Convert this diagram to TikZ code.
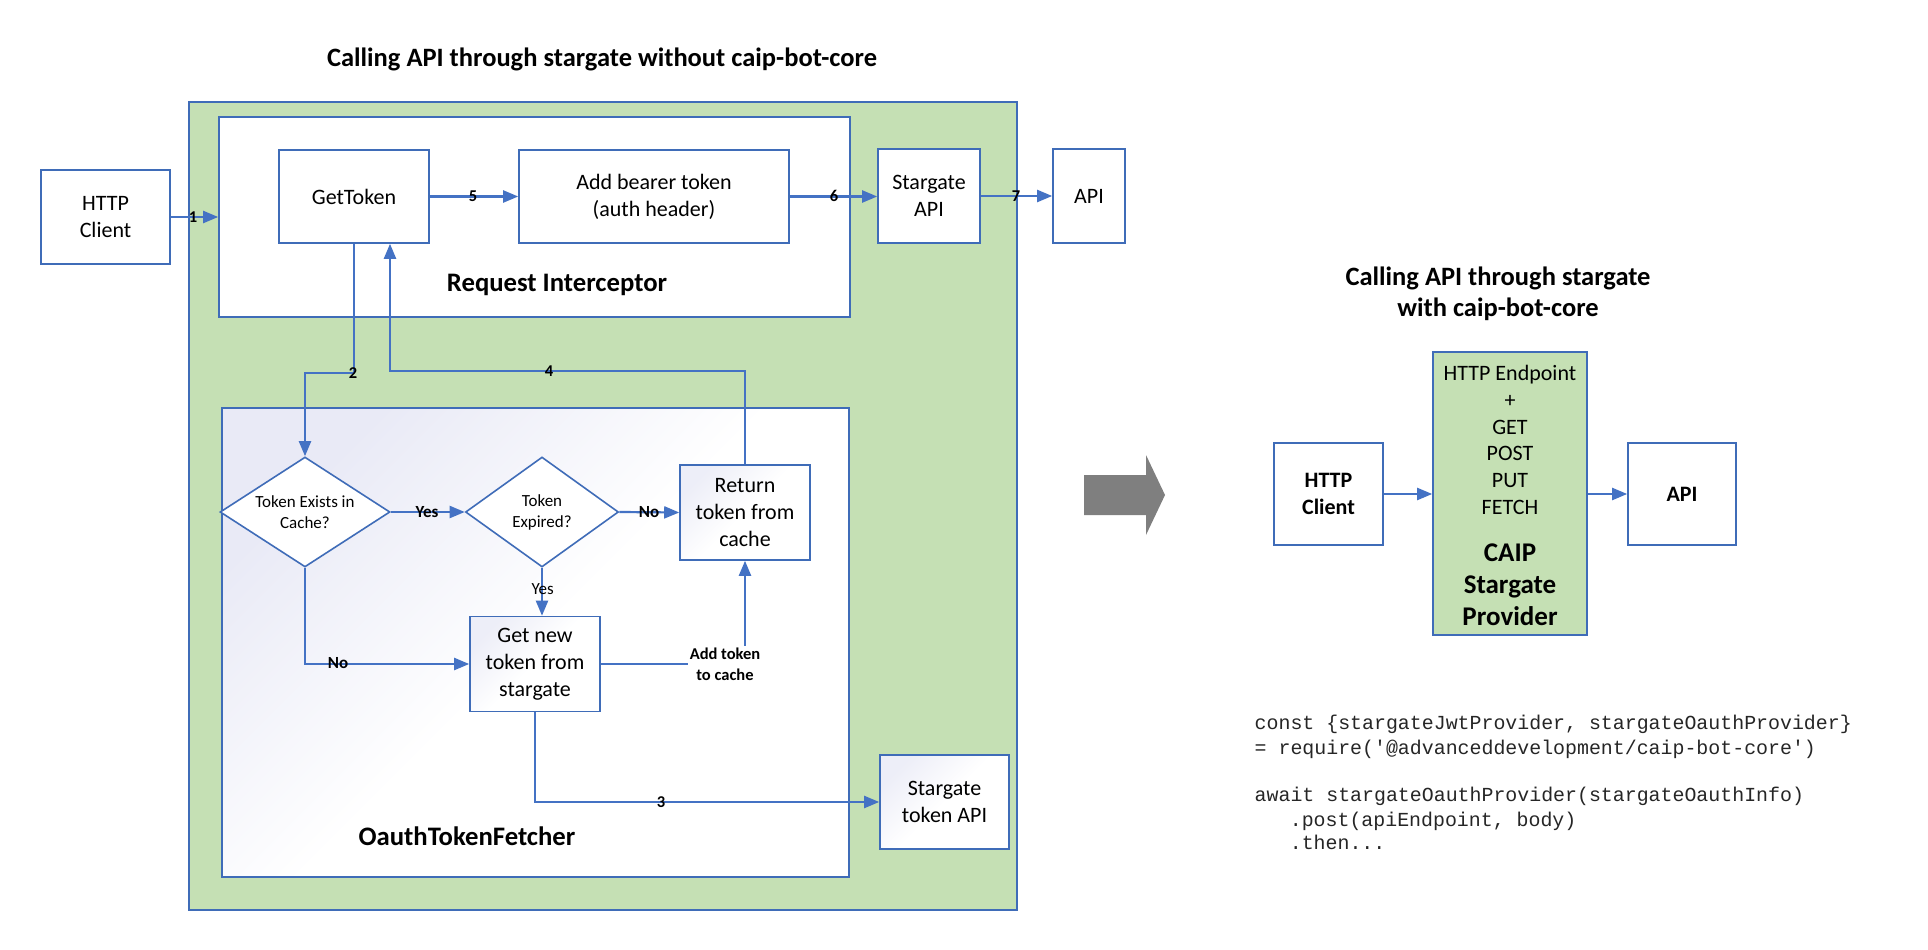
\documentclass[tikz,border=0pt]{standalone}
\usepackage{fontspec}
\setmainfont{Carlito}
\setmonofont{Liberation Mono}
\usetikzlibrary{arrows.meta,shapes.geometric}
\definecolor{lineblue}{HTML}{4472C4}
\definecolor{boxblue}{HTML}{3F6CB8}
\definecolor{bggreen}{HTML}{C5E0B4}
\definecolor{lav}{HTML}{E9EAF6}
\definecolor{arrowgray}{HTML}{7F7F7F}
\newcommand\fsz[2]{\fontsize{#1}{#2}\selectfont}
\begin{document}
\begin{tikzpicture}[x=1pt,y=-1pt,
  box/.style={draw=boxblue, line width=1.6pt, fill=white, align=center, inner sep=0pt, font=\fsz{22}{27}},
  gbox/.style={box, top color=lav!80, bottom color=white, middle color=white, shading angle=45},
  dia/.style={diamond, draw=boxblue, line width=1.6pt, fill=white, inner sep=0pt, align=center, font=\fsz{17}{21}},
  conn/.style={draw=lineblue, line width=2.2pt},
  arr/.style={conn, -{Triangle[length=15pt,width=12pt]}},
  num/.style={font=\bfseries\fsz{16.5}{18}, inner sep=0pt},
  yn/.style={font=\bfseries\fsz{17}{21}, inner sep=0pt},
  title/.style={font=\bfseries\fsz{26.5}{31}, align=center},
  code/.style={font=\ttfamily\fsz{19.9}{24}, text=black!85, anchor=base west, inner sep=0pt}
]
\useasboundingbox (0,0) rectangle (1928,950);

% ---------- left diagram ----------
\node[title] (t1) at (602,59) {Calling API through stargate without caip-bot-core};
\node[draw=boxblue, line width=1.6pt, fill=bggreen, minimum width=828pt, minimum height=808pt, inner sep=0pt] (green) at (603,506) {};
\node[box, minimum width=631pt, minimum height=200pt] (ri) at (534.5,217) {};
\node[box, top color=lav, bottom color=white, middle color=white, shading angle=45,
      minimum width=627pt, minimum height=469pt] (otf) at (535.3,642.2) {};

\node[box, minimum width=129pt, minimum height=94pt] (hc) at (105.5,217) {HTTP\\Client};
\node[box, minimum width=150pt, minimum height=93pt] (gt) at (354,196.5) {GetToken};
\node[box, minimum width=270pt, minimum height=93pt] (ab) at (654,196.5) {Add bearer token\\(auth header)};
\node[box, minimum width=102pt, minimum height=94pt] (sa) at (929,196) {Stargate\\API};
\node[box, minimum width=72pt, minimum height=94pt] (api) at (1089,196) {API};
\node[font=\bfseries\fsz{26.7}{30}] (ril) at (557,285) {Request Interceptor};

\node[dia, shape aspect=1.55, minimum width=170pt, minimum height=110pt] (d1) at (305,512) {Token Exists in\\Cache?};
\node[dia, shape aspect=1.4, minimum width=153pt, minimum height=110pt] (d2) at (542,512) {Token\\Expired?};
\node[gbox, minimum width=130pt, minimum height=95pt] (rt) at (745,512.5) {Return\\token from\\cache};
\node[gbox, minimum width=130pt, minimum height=95pt] (gn) at (535,664) {Get new\\token from\\stargate};
\node[gbox, minimum width=129pt, minimum height=94pt] (tapi) at (944.5,802) {Stargate\\token API};
\node[font=\bfseries\fsz{26.7}{30}] (otfl) at (467,836) {OauthTokenFetcher};

% connectors
\draw[arr] (hc.east) -- (ri.west |- hc.east);
\draw[arr] (gt.east) -- (ab.west);
\draw[arr] (ab.east) -- (sa.west |- ab.east);
\draw[arr] (sa.east) -- (api.west);
\coordinate (c2) at (305,373);
\draw[arr] (gt.south) |- (c2) -- (d1.north);
\coordinate (c4) at (390,371);
\draw[arr] (rt.north) |- (c4) -- (c4 |- gt.south);
\draw[arr] (d1.east) -- (d2.west);
\draw[arr] (d2.east) -- (rt.west);
\draw[arr] (d2.south) -- (d2.south |- gn.north);
\draw[arr] (d1.south) |- (gn.west);
\draw[arr] (gn.east) -| (rt.south);
\draw[arr] (gn.south) |- (tapi.west);

% connector labels
\node[num] (n1) at (193,217) {1};
\node[num] (n5) at (473,196) {5};
\node[num] (n6) at (834,196) {6};
\node[num] (n7) at (1016,196) {7};
\node[num] (n2) at (353,373) {2};
\node[num] (n4) at (549,371) {4};
\node[num] (n3) at (661,802) {3};
\node[yn] (y1) at (427,512) {Yes};
\node[yn] (no1) at (649,512) {No};
\node[font=\fsz{17}{21}, inner sep=0pt] (y2) at (542.7,589) {Yes};
\node[yn] (no2) at (338,663) {No};
\node[yn, align=center, fill=white, inner sep=2pt, font=\bfseries\fsz{16.5}{21}] (atc) at (725,664) {Add token\\to cache};

% ---------- right diagram ----------
\fill[arrowgray] (1084,475) -- (1146,475) -- (1146,455) -- (1165,495) -- (1146,535) -- (1146,515) -- (1084,515) -- cycle;
\node[title] (t2) at (1498,294) {Calling API through stargate\\with caip-bot-core};
\node[box, font=\bfseries\fsz{22}{27}, minimum width=109pt, minimum height=102pt] (hc2) at (1328.5,494) {HTTP\\Client};
\node[box, fill=bggreen, minimum width=154pt, minimum height=283pt] (caip) at (1510,493.5) {};
\node[box, font=\bfseries\fsz{22}{27}, minimum width=108pt, minimum height=102pt] (api2) at (1682,494) {API};
\node[align=center, font=\fsz{22}{26.7}, inner sep=0pt] (caipa) at (1510,440) {HTTP Endpoint\\+\\GET\\POST\\PUT\\FETCH};
\node[align=center, font=\bfseries\fsz{27}{32}, inner sep=0pt] (caipb) at (1510,585) {CAIP\\Stargate\\Provider};
\draw[arr] (hc2.east) -- (caip.west |- hc2.east);
\draw[arr] (caip.east |- api2.west) -- (api2.west);

% code
\node[code] (k1) at (1254.5,729) {const \{stargateJwtProvider, stargateOauthProvider\}};
\node[code] (k2) at (1254.5,754) {= require('@advanceddevelopment/caip-bot-core')};
\node[code] (k3) at (1254.5,801) {await stargateOauthProvider(stargateOauthInfo)};
\node[code] (k4) at (1289.6,826) {.post(apiEndpoint, body)};
\node[code] (k5) at (1289.6,849) {.then...};
\end{tikzpicture}
\end{document}
